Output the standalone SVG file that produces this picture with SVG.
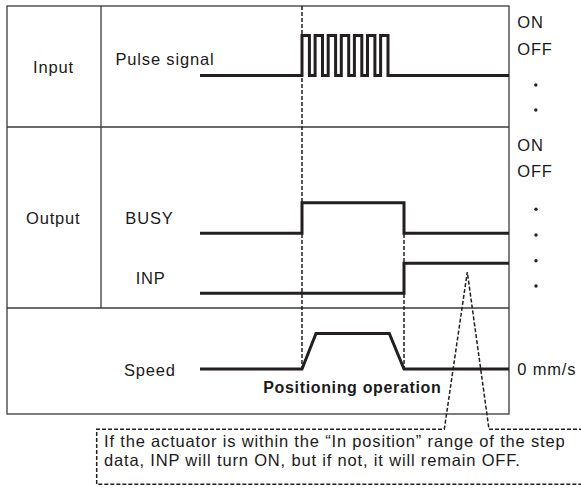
<svg xmlns="http://www.w3.org/2000/svg" width="581" height="488" viewBox="0 0 581 488">
<style>
text{font-family:"Liberation Sans",Arial,sans-serif;font-size:16.5px;letter-spacing:0.83px;fill:#1a1a1a}
.b{font-weight:bold;font-size:16px;letter-spacing:0.65px}
.grid{fill:none;stroke:#3a3a3a;stroke-width:1.3}
.sig{fill:none;stroke:#231f20;stroke-width:3;stroke-linejoin:miter;stroke-linecap:butt}
.dash{fill:none;stroke:#231f20;stroke-width:1.5;stroke-dasharray:4 2}
.dot{fill:#231f20}
</style>
<rect width="581" height="488" fill="#fff"/>
<g id="table">
<rect class="grid" x="7" y="6" width="502" height="408"/>
<line class="grid" x1="101" y1="6" x2="101" y2="308"/>
<line class="grid" x1="7" y1="127" x2="509" y2="127"/>
<line class="grid" x1="7" y1="308" x2="509" y2="308"/>
</g>
<g id="input-row">
<text x="33" y="72.5">Input</text>
<text x="115.5" y="65">Pulse signal</text>
<path class="sig" d="M200 75.5 H302 V35.5 H309.4 V75.5 H315.1 V35.5 H322.5 V75.5 H328.2 V35.5 H335.6 V75.5 H341.3 V35.5 H348.7 V75.5 H354.4 V35.5 H361.8 V75.5 H367.5 V35.5 H374.9 V75.5 H380.6 V35.5 H388 V75.5 H509"/>
</g>
<g id="output-row">
<text x="26" y="224.3">Output</text>
<text x="125.3" y="224.3">BUSY</text>
<text x="135.7" y="284.3">INP</text>
<path class="sig" d="M200 233.3 H302 V202.7 H404 V233.3 H509"/>
<path class="sig" d="M200 293.3 H404 V263.3 H509"/>
</g>
<g id="speed-row">
<text x="124" y="375.7">Speed</text>
<path class="sig" d="M200 369 H302 L316 333.5 H389.3 L404 369 H509"/>
<text class="b" x="263.3" y="393.3">Positioning operation</text>
</g>
<g id="states">
<text x="517.3" y="28.3">ON</text>
<text x="517.3" y="54.5">OFF</text>
<circle class="dot" cx="535.8" cy="85" r="1.7"/>
<circle class="dot" cx="535.8" cy="110" r="1.7"/>
<text x="517.3" y="151">ON</text>
<text x="517.3" y="176.5">OFF</text>
<circle class="dot" cx="536" cy="209.3" r="1.7"/>
<circle class="dot" cx="536" cy="235" r="1.7"/>
<circle class="dot" cx="536" cy="260.7" r="1.7"/>
<circle class="dot" cx="536" cy="286" r="1.7"/>
<text x="517.3" y="375">0 mm/s</text>
</g>
<g id="connectors">
<line class="dash" x1="302" y1="6" x2="302" y2="369"/>
<line class="dash" x1="404" y1="234" x2="404" y2="369"/>
</g>
<g id="callout">
<path class="dash" d="M583 429.3 H489 L467.3 272 L444.3 429.3 H96.7 V484.3 H583"/>
<text x="104" y="446.7">If the actuator is within the “In position” range of the step</text>
<text x="104" y="466">data, INP will turn ON, but if not, it will remain OFF.</text>
</g>
</svg>
